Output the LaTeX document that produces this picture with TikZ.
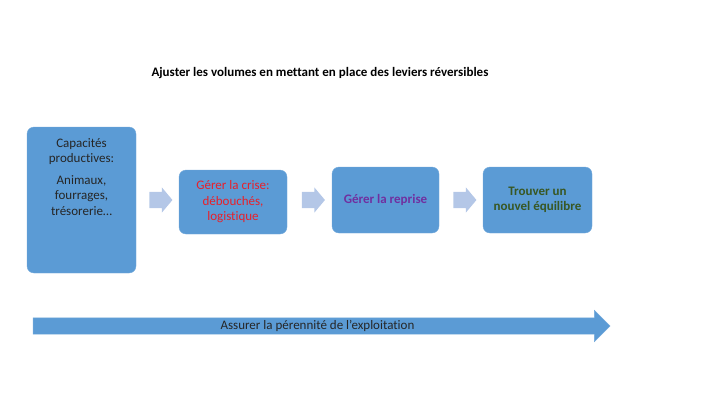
\documentclass[tikz,border=0pt]{standalone}
\usepackage{fontspec}
\setmainfont{Carlito}[Ligatures=NoCommon]
\usetikzlibrary{shapes.arrows,positioning}
\definecolor{boxblue}{HTML}{5B9BD5}
\definecolor{lightarrow}{HTML}{B4C7E7}
\definecolor{crisered}{HTML}{E8202A}
\definecolor{reprisepurple}{HTML}{7030A0}
\definecolor{equigreen}{HTML}{385723}
\tikzset{
    etape/.style={fill=boxblue, draw=boxblue!85!white, rounded corners=7pt, align=center,
        font=\fontsize{13}{15.5}\selectfont, inner sep=2pt},
    fleche/.style={single arrow, fill=lightarrow, minimum height=23pt,
        single arrow head extend=4.5pt, shape border uses incircle=false,
        single arrow tip angle=100, inner xsep=0pt, inner ysep=8pt}
}
\begin{document}
\begin{tikzpicture}[x=1pt,y=-1pt]
        \useasboundingbox (0,0) rectangle (711,400);

        \node[font=\bfseries\fontsize{13}{15}\selectfont] (titre) at (320,73)
            {Ajuster les volumes en mettant en place des leviers réversibles};

        % les etapes
        \node[etape, minimum width=109pt, minimum height=146pt] (capa) at (81.5,200) {};
        \node[align=center, anchor=north, text=black!85, font=\fontsize{13}{15.5}\selectfont]
            (capatxt) at (81.5,135) {Capacités\\productives:\\[6pt]Animaux,\\fourrages,\\trésorerie…};
        \node[etape, minimum width=108pt, minimum height=64pt, text=crisered] (crise) at (233,202) {Gérer la crise:\\débouchés,\\logistique};
        \node[etape, minimum width=107pt, minimum height=66pt, text=reprisepurple, font=\bfseries\fontsize{13}{15.5}\selectfont] (reprise) at (385.5,200) {Gérer la reprise};
        \node[etape, minimum width=109pt, minimum height=66pt, text=equigreen, font=\bfseries\fontsize{13}{15.5}\selectfont] (equi) at (537.5,200) {Trouver un\\nouvel équilibre};

        % petites fleches
        \node[fleche] (f1) at (157.5,200) {};
        \node[fleche] (f2) at (310,200) {};
        \node[fleche] (f3) at (461.5,200) {};

        % grande fleche
        \node[single arrow, fill=boxblue, draw=boxblue!85!white, minimum height=577pt,
            single arrow head extend=7.5pt, inner xsep=0pt, inner ysep=2pt,
            text height=9pt, text depth=3pt, text=black!85,
            font=\fontsize{13}{15}\selectfont] (perennite) at (317.5,326)
            {Assurer la pérennité de l’exploitation};
    \end{tikzpicture}
\end{document}
